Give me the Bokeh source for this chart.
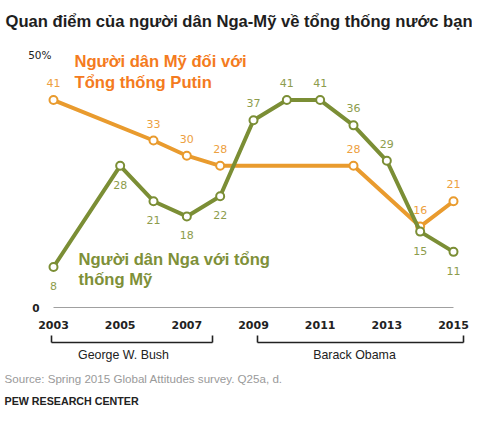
from bokeh.plotting import figure
from bokeh.models import Range1d
from bokeh.core.properties import value
from bokeh.embed import file_html
from bokeh.resources import INLINE

# ---------------- data ----------------
title = "Quan điểm của người dân Nga-Mỹ về tổng thống nước bạn"

us_on_putin_years = [2003, 2006, 2007, 2008, 2012, 2014, 2015]
us_on_putin_vals = [41, 33, 30, 28, 28, 16, 21]

ru_on_us_years = [2003, 2005, 2006, 2007, 2008, 2009, 2010, 2011, 2012, 2013, 2014, 2015]
ru_on_us_vals = [8, 28, 21, 18, 22, 37, 41, 41, 36, 29, 15, 11]
ru_label_above = [False, False, False, False, False, True, True, True, True, True, False, False]

tick_years = [2003, 2005, 2007, 2009, 2011, 2013, 2015]
tick_labels = ["2003", "2005", "2007", "2009", "2011", "2013", "2015"]

president_names = ["George W. Bush", "Barack Obama"]

us_series_label = ["Người dân Mỹ đối với", "Tổng thống Putin"]
ru_series_label = ["Người dân Nga với tổng", "thống Mỹ"]

source_text = "Source: Spring 2015 Global Attitudes survey. Q25a, d."
credit_text = "PEW RESEARCH CENTER"

# ---------------- styling / layout ----------------
ORANGE_LINE = "#E99B2E"
ORANGE_TEXT = "#F47B20"
ORANGE_LABEL = "#EDA040"
GREEN_LINE = "#7B8E35"
GREEN_TEXT = "#7E9038"
GREEN_LABEL = "#8D9C4C"

W, H = 472, 407
PX_YEAR = 33.333
PX_UNIT = 5.06


def dx(px):
    return 2003 + (px - 53) / PX_YEAR


def dy(py):
    return (307 - py) / PX_UNIT


p = figure(width=W, height=H, output_backend="svg", toolbar_location=None,
           x_range=Range1d(dx(0), dx(W)), y_range=Range1d(dy(H), dy(0)),
           x_axis_location=None, y_axis_location=None,
           min_border=0, outline_line_color=None)
p.grid.visible = False
p.background_fill_color = "white"
p.border_fill_color = "white"

FONT = value("Liberation Sans")
NUMFONT = value("DejaVu Sans")

# title
p.text(x=[dx(5)], y=[dy(21)], text=[title], text_font=FONT, text_font_size="16.6px",
       text_font_style="bold", text_baseline="middle", text_align="left", text_color="#1e1e1e")

# zero line and y labels
p.segment(x0=[tick_years[0]], x1=[tick_years[-1]], y0=[0], y1=[0], line_color="#a0a0a0", line_width=1)
p.text(x=[dx(51)], y=[50], text=["50%"], text_font=NUMFONT, text_font_size="10.5px",
       text_baseline="middle", text_align="right", text_color="#222222")
p.text(x=[dx(39)], y=[0], text=["0"], text_font=NUMFONT, text_font_size="10.5px",
       text_font_style="bold", text_baseline="middle", text_align="right", text_color="#222222")

# x tick labels
p.text(x=tick_years, y=[dy(324)] * len(tick_years), text=tick_labels, text_font=NUMFONT,
       text_font_size="11px", text_font_style="bold", text_baseline="middle", text_align="center",
       text_color="#222222")

# president brackets
br_left = [dx(51), dx(257)]
br_right = [dx(212), dx(463)]
br_top, br_bot = dy(335), dy(342)
p.segment(x0=br_left, x1=br_right, y0=[br_bot] * 2, y1=[br_bot] * 2, line_color="#222222", line_width=1.6)
p.segment(x0=br_left + br_right, x1=br_left + br_right, y0=[br_top] * 4, y1=[br_bot] * 4,
          line_color="#222222", line_width=1.6)
p.text(x=[dx(123), dx(354)], y=[dy(354)] * 2, text=president_names, text_font=FONT,
       text_font_size="12.4px", text_baseline="middle", text_align="center", text_color="#222222")

# series: US views of Putin (orange)
p.line(us_on_putin_years, us_on_putin_vals, line_color=ORANGE_LINE, line_width=4, line_join="round")
p.scatter(us_on_putin_years, us_on_putin_vals, size=8, fill_color="white", line_color=ORANGE_LINE, line_width=2)

# series: Russian views of US president (green)
p.line(ru_on_us_years, ru_on_us_vals, line_color=GREEN_LINE, line_width=4, line_join="round")
p.scatter(ru_on_us_years, ru_on_us_vals, size=8, fill_color="white", line_color=GREEN_LINE, line_width=2)

# data labels
up = 17 / PX_UNIT
down = 19 / PX_UNIT
p.text(x=us_on_putin_years, y=[v + up for v in us_on_putin_vals], text=[str(v) for v in us_on_putin_vals],
       text_font=NUMFONT, text_font_size="11px", text_baseline="middle", text_align="center",
       text_color=ORANGE_LABEL)
p.text(x=ru_on_us_years, y=[v + up if a else v - down for v, a in zip(ru_on_us_vals, ru_label_above)],
       text=[str(v) for v in ru_on_us_vals], text_font=NUMFONT, text_font_size="11px",
       text_baseline="middle", text_align="center", text_color=GREEN_LABEL)

# series labels
p.text(x=[dx(74)] * 2, y=[dy(61), dy(82)], text=us_series_label, text_font=FONT, text_font_size="16.6px",
       text_font_style="bold", text_baseline="middle", text_align="left", text_color=ORANGE_TEXT)
p.text(x=[dx(78)] * 2, y=[dy(259), dy(279)], text=ru_series_label, text_font=FONT, text_font_size="16.6px",
       text_font_style="bold", text_baseline="middle", text_align="left", text_color=GREEN_TEXT)

# source and credit
p.text(x=[dx(4)], y=[dy(378)], text=[source_text], text_font=FONT, text_font_size="11.6px",
       text_baseline="middle", text_align="left", text_color="#9a9a9a")
p.text(x=[dx(4)], y=[dy(400)], text=[credit_text], text_font=FONT, text_font_size="10.7px",
       text_font_style="bold", text_baseline="middle", text_align="left", text_color="#222222")

open("out.html", "w").write(file_html(p, INLINE))
